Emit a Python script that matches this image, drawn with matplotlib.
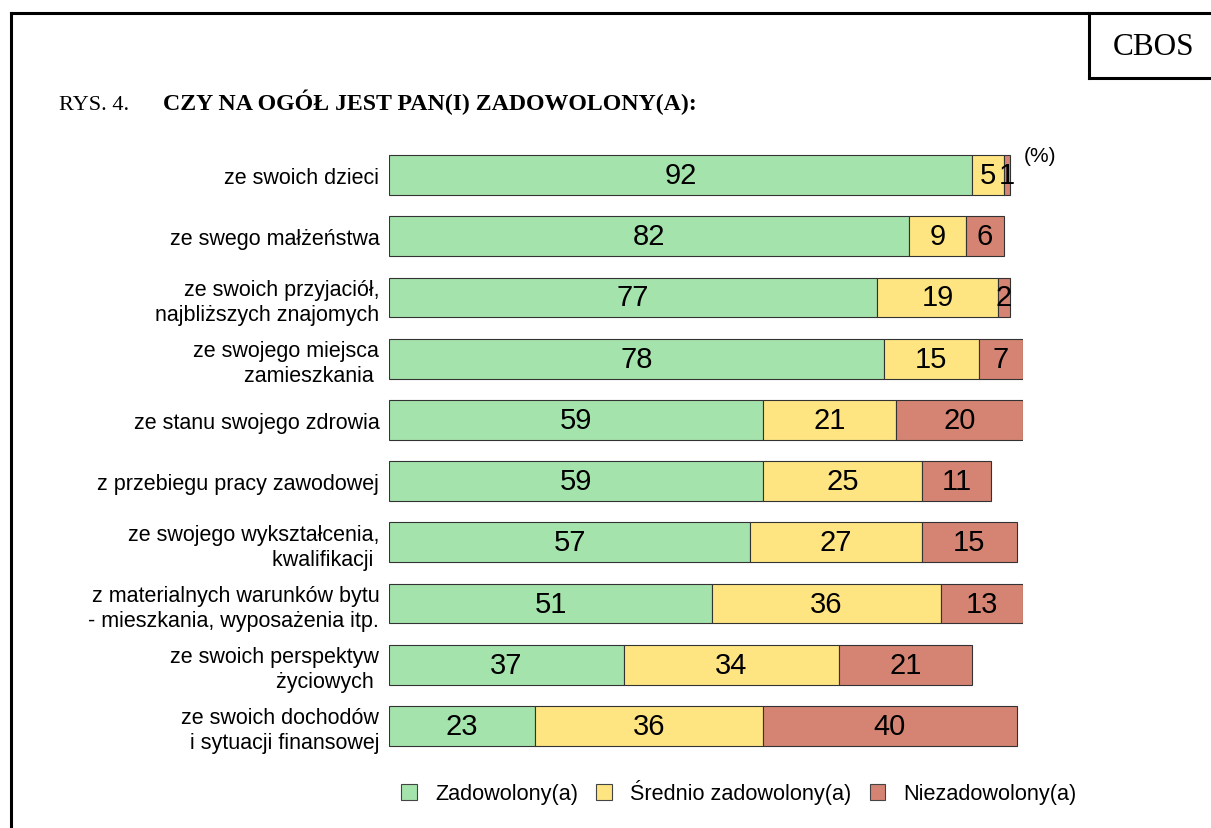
import matplotlib
matplotlib.use("Agg")
import matplotlib.pyplot as plt
from matplotlib.patches import Patch
from matplotlib.lines import Line2D
import numpy as np

categories = [
    "ze swoich dzieci",
    "ze swego małżeństwa",
    "ze swoich przyjaciół,\nnajbliższych znajomych",
    "ze swojego miejsca\nzamieszkania ",
    "ze stanu swojego zdrowia",
    "z przebiegu pracy zawodowej",
    "ze swojego wykształcenia,\nkwalifikacji ",
    "z materialnych warunków bytu\n- mieszkania, wyposażenia itp.",
    "ze swoich perspektyw\nżyciowych ",
    "ze swoich dochodów\ni sytuacji finansowej",
]
zadowolony = [92, 82, 77, 78, 59, 59, 57, 51, 37, 23]
srednio = [5, 9, 19, 15, 21, 25, 27, 36, 34, 36]
niezadowolony = [1, 6, 2, 7, 20, 11, 15, 13, 21, 40]
series_names = ["Zadowolony(a)", "Średnio zadowolony(a)", "Niezadowolony(a)"]
colors = ["#A5E3AD", "#FEE581", "#D58473"]

W, H = 1211, 829
fig = plt.figure(figsize=(W / 100, H / 100), dpi=100)

def fx(px):
    return px / W

def fy(py):
    return 1 - py / H

ax_left = fx(389)
ax_right = fx(389 + 6.34 * 100)
ax_top = fy(176 - 30.6)
ax_bot = fy(727 + 30.6)
ax = fig.add_axes([ax_left, ax_bot, ax_right - ax_left, ax_top - ax_bot])

sans = "Liberation Sans"
serif = "Liberation Serif"

y = np.arange(len(categories))
left = np.zeros(len(categories))
for vals, col, name in zip([zadowolony, srednio, niezadowolony], colors, series_names):
    vals = np.array(vals, dtype=float)
    ax.barh(y, vals, left=left, height=0.65, color=col, edgecolor="#333333",
            linewidth=0.8, label=name)
    for yi, l, v in zip(y, left, vals):
        ax.text(l + v / 2, yi, f"{int(v)}", ha="center", va="center",
                fontsize=21, family=sans, color="black")
    left = left + vals

ax.set_xlim(0, 100)
ax.set_ylim(len(categories) - 0.5, -0.5)
ax.set_yticks(y)
ax.set_yticklabels(categories, fontsize=15.5, family=sans, linespacing=1.25,
                   multialignment="right")
ax.tick_params(axis="y", length=0, pad=7)
ax.set_xticks([])
for s in ax.spines.values():
    s.set_visible(False)

handles = [Patch(facecolor=c, edgecolor="#444444", linewidth=0.8) for c in colors]
fig.legend(handles, series_names, loc="center", bbox_to_anchor=(fx(739), fy(793)),
           ncol=3, frameon=False, prop={"family": sans, "size": 15.6},
           handlelength=0.7, handleheight=0.7, handletextpad=0.85,
           columnspacing=0.85, borderpad=0)

fig.text(fx(1024), fy(157), "(%)", fontsize=15, family=sans, ha="left", va="center")

fig.text(fx(59), fy(110), "RYS. 4.", fontsize=16, family=serif, ha="left", va="baseline")
fig.text(fx(163), fy(110), "CZY NA OGÓŁ JEST PAN(I) ZADOWOLONY(A):", fontsize=17.2,
         family=serif, weight="bold", ha="left", va="baseline")
fig.text(fx(1154), fy(55), "CBOS", fontsize=22.5, family=serif, ha="center", va="baseline")

lw = 2.2
fig.add_artist(Line2D([fx(11), fx(1211)], [fy(14), fy(14)], color="black", lw=lw))
fig.add_artist(Line2D([fx(11), fx(11)], [fy(14), fy(829)], color="black", lw=lw))
fig.add_artist(Line2D([fx(1089), fx(1089)], [fy(14), fy(79)], color="black", lw=lw))
fig.add_artist(Line2D([fx(1089), fx(1211)], [fy(79), fy(79)], color="black", lw=lw))

fig.savefig("out.png", dpi=100)
